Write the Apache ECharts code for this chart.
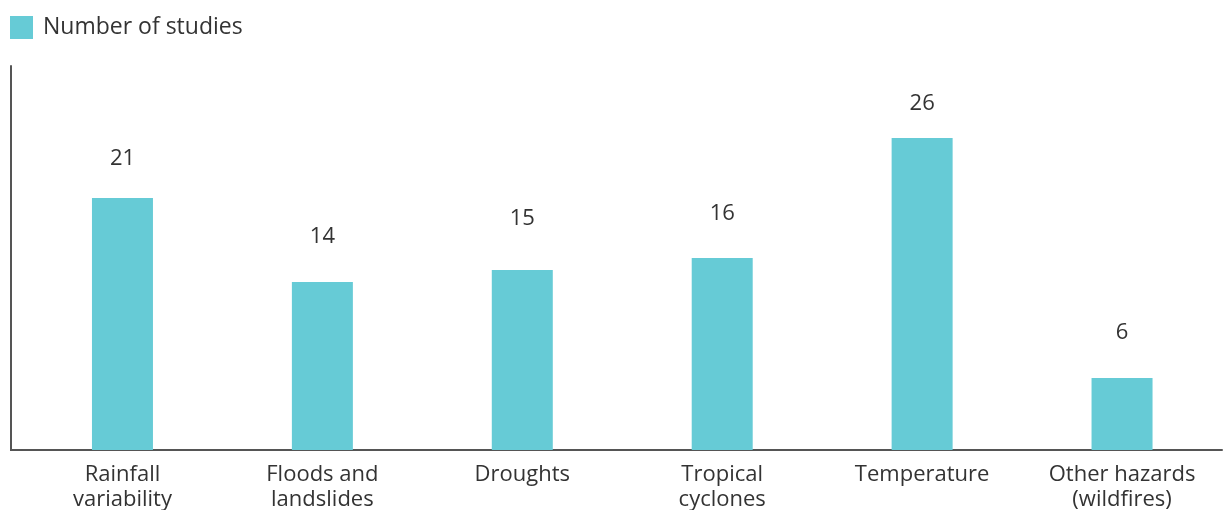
<!DOCTYPE html>
<html>
<head>
<meta charset="utf-8">
<script src="https://cdn.jsdelivr.net/npm/echarts@6/dist/echarts.min.js"></script>
<style>
    html, body { margin: 0; padding: 0; background: #fff; }
    #chart { width: 1224px; height: 510px; }
</style>
</head>
<body>
<div id="chart"></div>
<script>
// data
const categories = ['Rainfall\nvariability', 'Floods and\nlandslides', 'Droughts', 'Tropical\ncyclones', 'Temperature', 'Other hazards\n(wildfires)'];
const studies = [21, 14, 15, 16, 26, 6];
const seriesName = 'Number of studies';

// label gap above each bar (the source places them a bit unevenly)
const labelGap = [28, 34, 40, 33, 23, 34];

const textColor = '#333333';
const barColor = '#66cbd6';
const axisColor = '#555555';
const fontFamily = '"Open Sans", "Noto Sans", sans-serif';

let chart = echarts.init(document.getElementById('chart'));
let option = {
    animation: false,
    textStyle: { fontFamily: fontFamily },
    legend: {
        show: true, left: 10, top: 16, padding: 0,
        itemWidth: 23, itemHeight: 23, itemGap: 10,
        icon: 'rect',
        textStyle: { fontSize: 23, color: textColor, fontFamily: fontFamily, padding: [0, 0, 0, 5] },
        data: [seriesName]
    },
    grid: {
        left: 22.5, right: 2, top: 66, bottom: 60,
        containLabel: false, outerBoundsMode: 'none'
    },
    xAxis: {
        type: 'category', data: categories,
        axisLine: { show: true, lineStyle: { color: axisColor, width: 2 } },
        axisTick: { show: false },
        axisLabel: {
            interval: 0, margin: 12, fontSize: 22, color: textColor,
            lineHeight: 25, fontFamily: fontFamily
        }
    },
    yAxis: {
        type: 'value', min: 0, max: 32, offset: 11.5,
        axisLine: { show: true, lineStyle: { color: axisColor, width: 2 } },
        axisTick: { show: false },
        axisLabel: { show: false },
        splitLine: { show: false }
    },
    graphic: [{
        // the x axis line starts at the y axis line
        type: 'line', shape: { x1: 10, y1: 450, x2: 24, y2: 450 },
        style: { stroke: axisColor, lineWidth: 2 }
    }],
    series: [{
        name: seriesName, type: 'bar',
        data: studies.map((v, i) => ({ value: v, label: { distance: labelGap[i] } })),
        barWidth: 61,
        itemStyle: { color: barColor },
        label: {
            show: true, position: 'top',
            fontSize: 22, color: textColor, fontFamily: fontFamily
        }
    }]
};
chart.setOption(option);
</script>
</body>
</html>
